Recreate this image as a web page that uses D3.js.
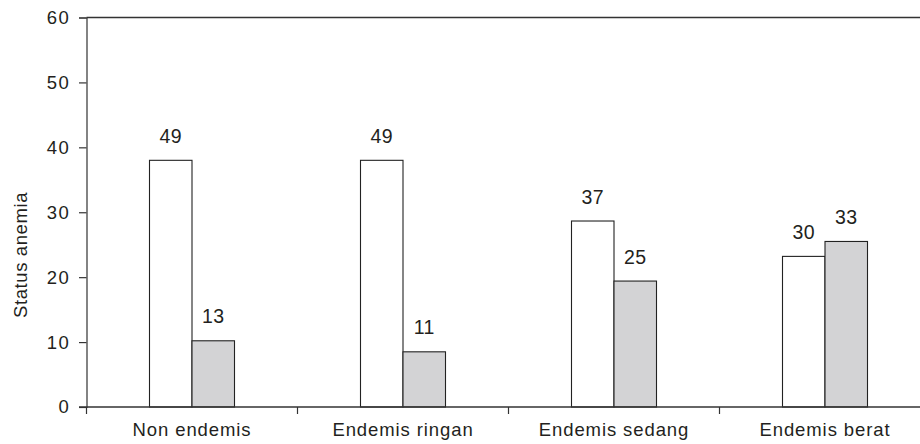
<!DOCTYPE html>
<html>
<head>
<meta charset="utf-8">
<script src="https://cdn.jsdelivr.net/npm/d3@7"></script>
<style>
  html, body { margin: 0; padding: 0; background: #fff; }
  svg { display: block; }
  text { font-family: "Liberation Sans", Arial, sans-serif; fill: #231f20; }
</style>
</head>
<body>
<svg id="chart" width="920" height="444"></svg>
<script>
// ---- data ----
const categories = ["Non endemis", "Endemis ringan", "Endemis sedang", "Endemis berat"];
const seriesKeys = ["s1", "s2"];
// bar heights
const series1Heights = [38, 38, 28.65, 23.2];
const series2Heights = [10.2, 8.5, 19.4, 25.5];
// numbers printed above bars
const series1Labels = ["49", "49", "37", "30"];
const series2Labels = ["13", "11", "25", "33"];
const yTicks = [0, 10, 20, 30, 40, 50, 60];
const yTitle = "Status anemia";

// ---- layout ----
const svg = d3.select("#chart");
const plotLeft = 86.5, bandStep = 211, plotBottom = 407, plotTop = 17.5;
const rightEdge = 920;

const x0 = d3.scaleBand().domain(categories)
  .range([plotLeft, plotLeft + bandStep * categories.length])
  .paddingInner(0).paddingOuter(0);
const barW = 42.5;
const x1 = d3.scaleBand().domain(seriesKeys)
  .range([x0.bandwidth() / 2 - barW, x0.bandwidth() / 2 + barW]);
const y = d3.scaleLinear().domain([0, 60]).range([plotBottom, plotTop]);

const fills = { s1: "#ffffff", s2: "#d3d3d5" };

const rows = categories.map((c, i) => ({
  cat: c,
  vals: [
    { key: "s1", h: series1Heights[i], label: series1Labels[i] },
    { key: "s2", h: series2Heights[i], label: series2Labels[i] }
  ]
}));

// y axis
const yAxis = d3.axisLeft(y).tickValues(yTicks).tickSize(7.5).tickPadding(9).tickFormat(d3.format("d"));
const gy = svg.append("g").attr("transform", `translate(${plotLeft},0)`).call(yAxis);
gy.select(".domain").attr("stroke", "#333").attr("stroke-width", 1.2);
gy.selectAll(".tick line").attr("stroke", "#333").attr("stroke-width", 1.2);
gy.selectAll(".tick text")
  .attr("font-size", 18.5)
  .style("font-family", "'Liberation Sans', Arial, sans-serif")
  .style("letter-spacing", "1.3px")
  .attr("fill", "#231f20");

// top line (60 level) across the width
svg.append("line")
  .attr("x1", plotLeft).attr("x2", rightEdge)
  .attr("y1", y(60)).attr("y2", y(60))
  .attr("stroke", "#333").attr("stroke-width", 1.4);

// bars
const groups = svg.append("g").selectAll("g").data(rows).join("g")
  .attr("transform", d => `translate(${x0(d.cat)},0)`);
groups.selectAll("rect").data(d => d.vals).join("rect")
  .attr("x", d => x1(d.key))
  .attr("width", x1.bandwidth())
  .attr("y", d => y(d.h))
  .attr("height", d => y(0) - y(d.h))
  .attr("fill", d => fills[d.key])
  .attr("stroke", "#222")
  .attr("stroke-width", 1.1);
groups.selectAll("text").data(d => d.vals).join("text")
  .attr("x", d => x1(d.key) + x1.bandwidth() / 2)
  .attr("y", d => y(d.h) - 17.5)
  .attr("text-anchor", "middle")
  .attr("font-size", 19.5)
  .style("letter-spacing", "0.4px")
  .text(d => d.label);

// x axis line
svg.append("line")
  .attr("x1", plotLeft - 7.5).attr("x2", rightEdge)
  .attr("y1", y(0)).attr("y2", y(0))
  .attr("stroke", "#333").attr("stroke-width", 1.4);

// x ticks at category boundaries
svg.append("g").selectAll("line").data(categories).join("line")
  .attr("x1", d => x0(d)).attr("x2", d => x0(d))
  .attr("y1", y(0)).attr("y2", y(0) + 7)
  .attr("stroke", "#333").attr("stroke-width", 1.2);

// category labels
svg.append("g").selectAll("text").data(categories).join("text")
  .attr("x", d => x0(d) + x0.bandwidth() / 2)
  .attr("y", 436)
  .attr("text-anchor", "middle")
  .attr("font-size", 18.5)
  .style("letter-spacing", "0.9px")
  .text(d => d);

// y title
svg.append("text")
  .attr("transform", `translate(27,255) rotate(-90)`)
  .attr("text-anchor", "middle")
  .attr("font-size", 18.5)
  .style("letter-spacing", "0.6px")
  .text(yTitle);
</script>
</body>
</html>
